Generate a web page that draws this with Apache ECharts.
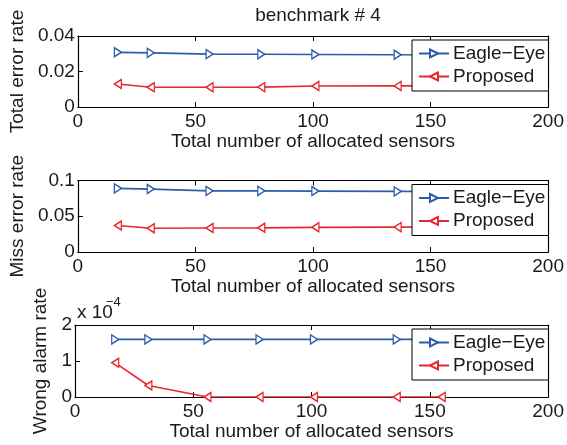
<!DOCTYPE html>
<html>
<head>
<meta charset="utf-8">
<script src="https://cdn.jsdelivr.net/npm/echarts@6/dist/echarts.min.js"></script>
<style>
html,body{margin:0;padding:0;background:#fff;}
#chart{width:567px;height:445px;}
</style>
</head>
<body>
<div id="chart"></div>
<script>
// ---- data ----
const sensors = [17, 31, 56, 78, 101, 136, 155];
const totalEagle = [0.0308, 0.0305, 0.0298, 0.0297, 0.0296, 0.0294, 0.0293];
const totalProposed = [0.0130, 0.0111, 0.0111, 0.0112, 0.0118, 0.0119, 0.0119];
const missEagle = [0.0890, 0.0880, 0.0855, 0.0855, 0.0852, 0.0848, 0.0846];
const missProposed = [0.0370, 0.0332, 0.0335, 0.0338, 0.0345, 0.0348, 0.0350];
const wrongEagle = [1.6e-4, 1.6e-4, 1.6e-4, 1.6e-4, 1.6e-4, 1.6e-4, 1.6e-4];
const wrongProposed = [0.95e-4, 0.32e-4, 0, 0, 0, 0, 0];
const seriesNames = ['Eagle\u2212Eye', 'Proposed'];
const xTickRange = [0, 200, 50];
const yRanges = [[0, 0.04, 0.02], [0, 0.1, 0.05], [0, 2e-4, 1e-4]];
const yLabels = ['Total error rate', 'Miss error rate', 'Wrong alarm rate'];
const xLabel = 'Total number of allocated sensors';
const titleText = 'benchmark # 4';

// ---- styling ----
const FONT = 'Liberation Sans, Arial, Helvetica, sans-serif';
const FS = 19;
const TXT = '#1a1a1a';
const BLUE = '#2d5cad';
const RED = '#e8272d';
const panels = [
  {top: 36, height: 71, nameGap: 46},
  {top: 180.5, height: 71.5, nameGap: 46},
  {top: 325, height: 72, nameGap: 18}
];
const rightTri = 'path://M0,0L10,5L0,10Z';
const leftTri = 'path://M10,0L0,5L10,10Z';

const pairs = (xs, ys) => xs.map((x, i) => [x, ys[i]]);
const dataSets = [
  [totalEagle, totalProposed],
  [missEagle, missProposed],
  [wrongEagle, wrongProposed]
];

const grid = [], xAxis = [], yAxis = [], series = [], legend = [];
panels.forEach((p, k) => {
  grid.push({left: 75, right: 16, top: p.top, height: p.height, show: false});
  const tick = {show: true, inside: true, length: 5, lineStyle: {color: '#000', width: 1}};
  const line = {show: true, onZero: false, lineStyle: {color: '#000', width: 1.2}};
  xAxis.push({
    type: 'value', gridIndex: k, min: xTickRange[0], max: xTickRange[1], interval: xTickRange[2],
    position: 'bottom', axisLine: line, axisTick: tick, splitLine: {show: false},
    axisLabel: {color: TXT, fontSize: FS, fontFamily: FONT, margin: 5},
    name: xLabel, nameLocation: 'middle', nameGap: 23,
    nameTextStyle: {color: TXT, fontSize: FS, fontFamily: FONT}
  });
  xAxis.push({
    type: 'value', gridIndex: k, min: xTickRange[0], max: xTickRange[1], interval: xTickRange[2],
    position: 'top', axisLine: line, axisTick: tick, splitLine: {show: false},
    axisLabel: {show: false}
  });
  const yr = yRanges[k];
  yAxis.push({
    type: 'value', gridIndex: k, min: yr[0], max: yr[1], interval: yr[2],
    position: 'left', axisLine: line, axisTick: tick, splitLine: {show: false},
    axisLabel: {color: TXT, fontSize: FS, fontFamily: FONT, margin: 3,
      formatter: k === 2 ? (v => String(Math.round(v * 1e4))) : (v => String(+v.toFixed(4)))},
    name: yLabels[k], nameLocation: 'middle', nameGap: p.nameGap, nameRotate: 90,
    nameTextStyle: {color: TXT, fontSize: FS, fontFamily: FONT}
  });
  yAxis.push({
    type: 'value', gridIndex: k, min: yr[0], max: yr[1], interval: yr[2],
    position: 'right', axisLine: line, axisTick: tick, splitLine: {show: false},
    axisLabel: {show: false}
  });
  const [e, pr] = dataSets[k];
  series.push({
    name: seriesNames[0], type: 'line', xAxisIndex: 2 * k, yAxisIndex: 2 * k,
    data: pairs(sensors, e), symbol: rightTri, symbolSize: [7, 9],
    color: BLUE, lineStyle: {color: BLUE, width: 1.6},
    itemStyle: {color: '#fff', borderColor: BLUE, borderWidth: 1.4},
    animation: false, z: 2
  });
  series.push({
    name: seriesNames[1], type: 'line', xAxisIndex: 2 * k, yAxisIndex: 2 * k,
    data: pairs(sensors, pr), symbol: leftTri, symbolSize: [7, 9],
    color: RED, lineStyle: {color: RED, width: 1.6},
    itemStyle: {color: '#fff', borderColor: RED, borderWidth: 1.4},
    animation: false, z: 2
  });
  legend.push({
    data: seriesNames, orient: 'vertical', left: 412, top: p.top + 4,
    padding: [4, 3, 5, 6], itemWidth: 30, itemHeight: 10, itemGap: 4,
    backgroundColor: '#fff', borderColor: '#000', borderWidth: 1, borderRadius: 0,
    selectedMode: false, z: 10,
    textStyle: {color: TXT, fontSize: FS, fontFamily: FONT, padding: [0, 0, 0, -1]}
  });
});

const chart = echarts.init(document.getElementById('chart'), null, {renderer: 'canvas'});
chart.setOption({
  animation: false,
  backgroundColor: '#fff',
  title: {text: titleText, left: 313, top: 1, textAlign: 'center',
    textStyle: {color: TXT, fontSize: 19, fontWeight: 'normal', fontFamily: FONT}},
  grid, xAxis, yAxis, series, legend,
  graphic: [
    {type: 'text', left: 77, top: 303, style: {text: 'x 10', fill: TXT, font: FS + 'px ' + FONT}},
    {type: 'text', left: 106, top: 296, style: {text: '\u22124', fill: TXT, font: '13px ' + FONT}}
  ]
});
</script>
</body>
</html>
